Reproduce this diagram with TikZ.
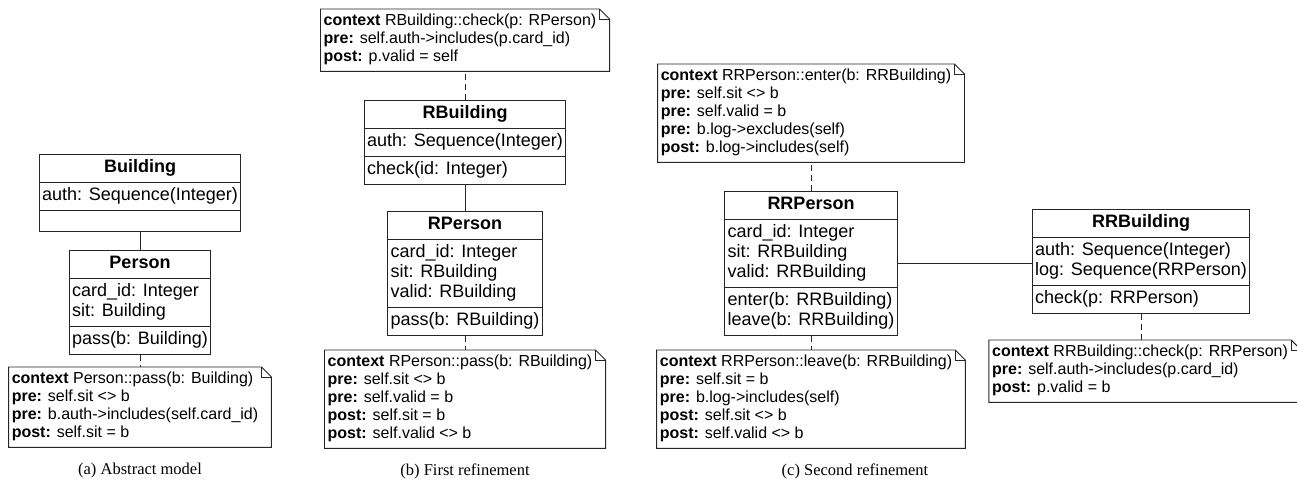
\documentclass[tikz,border=0pt]{standalone}
\usepackage{fontspec}
\setmainfont{Liberation Serif}
\newfontfamily\umlfont{Liberation Sans}
\usetikzlibrary{shapes.multipart}
\newcommand\clsfont{\umlfont\fontsize{18}{20}\selectfont}
\newcommand\notefnt{\umlfont\fontsize{16}{18}\selectfont}
\newcommand\umlrows[1]{\begin{tabular}{@{}l@{}}#1\end{tabular}}
\newcommand\notedraw[1]{%
  \draw[bd] (#1.north west) -- (#1.north east) -- ([xshift=10pt,yshift=-10pt]#1.north east)
    -- ([xshift=10pt]#1.south east) -- (#1.south west) -- cycle;
  \draw[bd] (#1.north east) -- ([yshift=-10pt]#1.north east) -- ([xshift=10pt,yshift=-10pt]#1.north east);}
\begin{document}
\begin{tikzpicture}[x=1pt,y=-1pt,
  umlclass/.style={rectangle split, rectangle split parts=3, draw=black!85, line width=0.9pt,
    font=\clsfont, inner xsep=3pt, inner ysep=3.5pt,
    rectangle split part align={center,left,left}, anchor=north},
  note/.style={font=\notefnt, inner xsep=3pt, inner ysep=4pt, anchor=north},
  bd/.style={draw=black!85, line width=0.9pt},
  assoc/.style={draw=black!85, line width=0.9pt},
  anchorline/.style={draw=black!85, line width=0.9pt, dash pattern=on 6pt off 4pt},
  capt/.style={font=\fontsize{16.5}{18}\selectfont}]
\useasboundingbox (0,0) rectangle (1297,481);
% ---------- (a)
\node[umlclass] (Building) at (140,154) {\umlrows{\textbf{Building}}
  \nodepart{two}\umlrows{auth: Sequence(Integer)}
  \nodepart{three}\rule{0pt}{13pt}};
\node[umlclass] (Person) at (140,250) {\umlrows{\textbf{Person}}
  \nodepart{two}\umlrows{card\_id: Integer\\ sit: Building}
  \nodepart{three}\umlrows{pass(b: Building)}};
\node[note] (Pnote) at (135,367) {\umlrows{\textbf{context} Person::pass(b: Building)\\
  \textbf{pre:} self.sit <> b\\
  \textbf{pre:} b.auth->includes(self.card\_id)\\
  \textbf{post:} self.sit = b}};
\notedraw{Pnote}
\draw[assoc] (Building.south) -- (Person.north);
\draw[anchorline] (Person.south) -- (Person.south |- Pnote.north);
\node[capt] (capA) at (140,471) {(a) Abstract model};
% ---------- (b)
\node[note] (RBnote) at (460,9) {\umlrows{\textbf{context} RBuilding::check(p: RPerson)\\
  \textbf{pre:} self.auth->includes(p.card\_id)\\
  \textbf{post:} p.valid = self}};
\notedraw{RBnote}
\node[umlclass] (RBuilding) at (465,100) {\umlrows{\textbf{RBuilding}}
  \nodepart{two}\umlrows{auth: Sequence(Integer)}
  \nodepart{three}\umlrows{check(id: Integer)}};
\node[umlclass] (RPerson) at (465,211) {\umlrows{\textbf{RPerson}}
  \nodepart{two}\umlrows{card\_id: Integer\\ sit: RBuilding\\ valid: RBuilding}
  \nodepart{three}\umlrows{pass(b: RBuilding)}};
\node[note] (RPnote) at (460,350) {\umlrows{\textbf{context} RPerson::pass(b: RBuilding)\\
  \textbf{pre:} self.sit <> b\\
  \textbf{pre:} self.valid = b\\
  \textbf{post:} self.sit = b\\
  \textbf{post:} self.valid <> b}};
\notedraw{RPnote}
\draw[anchorline] (RBuilding.north) -- (RBuilding.north |- RBnote.south);
\draw[assoc] (RBuilding.south) -- (RBuilding.south |- RPerson.north);
\draw[anchorline] (RPerson.south) -- (RPerson.south |- RPnote.north);
\node[capt] (capB) at (465,471) {(b) First refinement};
% ---------- (c)
\node[note] (Enote) at (806,64) {\umlrows{\textbf{context} RRPerson::enter(b: RRBuilding)\\
  \textbf{pre:} self.sit <> b\\
  \textbf{pre:} self.valid = b\\
  \textbf{pre:} b.log->excludes(self)\\
  \textbf{post:} b.log->includes(self)}};
\notedraw{Enote}
\node[umlclass] (RRPerson) at (811,191) {\umlrows{\textbf{RRPerson}}
  \nodepart{two}\umlrows{card\_id: Integer\\ sit: RRBuilding\\ valid: RRBuilding}
  \nodepart{three}\umlrows{enter(b: RRBuilding)\\ leave(b: RRBuilding)}};
\node[note] (Lnote) at (806,350) {\umlrows{\textbf{context} RRPerson::leave(b: RRBuilding)\\
  \textbf{pre:} self.sit = b\\
  \textbf{pre:} b.log->includes(self)\\
  \textbf{post:} self.sit <> b\\
  \textbf{post:} self.valid <> b}};
\notedraw{Lnote}
\node[umlclass] (RRBuilding) at (1141,209) {\umlrows{\textbf{RRBuilding}}
  \nodepart{two}\umlrows{auth: Sequence(Integer)\\ log: Sequence(RRPerson)}
  \nodepart{three}\umlrows{check(p: RRPerson)}};
\node[note] (RRBnote) at (1140,340) {\umlrows{\textbf{context} RRBuilding::check(p: RRPerson)\\
  \textbf{pre:} self.auth->includes(p.card\_id)\\
  \textbf{post:} p.valid = b}};
\notedraw{RRBnote}
\draw[anchorline] (RRPerson.north) -- (RRPerson.north |- Enote.south);
\draw[anchorline] (RRPerson.south) -- (RRPerson.south |- Lnote.north);
\draw[assoc] (RRPerson.east) -- (RRPerson.east -| RRBuilding.west);
\draw[anchorline] (RRBuilding.south) -- (RRBuilding.south |- RRBnote.north);
\node[capt] (capC) at (855,471) {(c) Second refinement};
\end{tikzpicture}
\end{document}
